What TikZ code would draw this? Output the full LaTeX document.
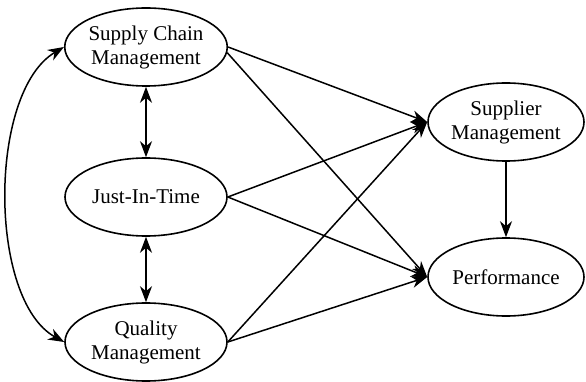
\documentclass[tikz,border=0pt]{standalone}
\usepackage{fontspec}
\setmainfont{Liberation Serif}
\usetikzlibrary{shapes.geometric,arrows.meta}
\tikzset{
  var/.style={ellipse, draw, line width=1.6pt, inner sep=0pt, minimum width=162pt, minimum height=78pt, align=center, font=\fontsize{21}{24}\selectfont},
  varr/.style={var, minimum width=156pt},
  conn/.style={line width=1.5pt, -{Stealth[length=16pt,width=12pt,inset=5pt]}},
  dconn/.style={line width=1.5pt, {Stealth[length=16pt,width=12pt,inset=5pt]}-{Stealth[length=16pt,width=12pt,inset=5pt]}}
}
\begin{document}
\begin{tikzpicture}[x=1pt,y=-1pt]
\useasboundingbox (0,0) rectangle (586,382);
\node[var] (scm) at (146,47) {Supply Chain\\Management};
\node[var] (jit) at (146,197) {Just-In-Time};
\node[var] (qm) at (146,342) {Quality\\Management};
\node[varr] (sm) at (506,122) {Supplier\\Management};
\node[varr] (perf) at (506,277) {Performance};
\draw[conn] (scm.east) -- (sm.west);
\draw[conn] (scm.-4) -- (perf.west);
\draw[conn] (jit.east) -- (sm.west);
\draw[conn] (jit.east) -- (perf.west);
\draw[conn] (qm.east) -- (sm.west);
\draw[conn] (qm.east) -- (perf.west);
\draw[conn] (sm.south) -- (perf.north);
\draw[dconn] (scm.south) -- (jit.north);
\draw[dconn] (jit.south) -- (qm.north);
\draw[dconn] (scm.west) .. controls (-12,92) and (-12,300) .. (qm.west);
\end{tikzpicture}
\end{document}
